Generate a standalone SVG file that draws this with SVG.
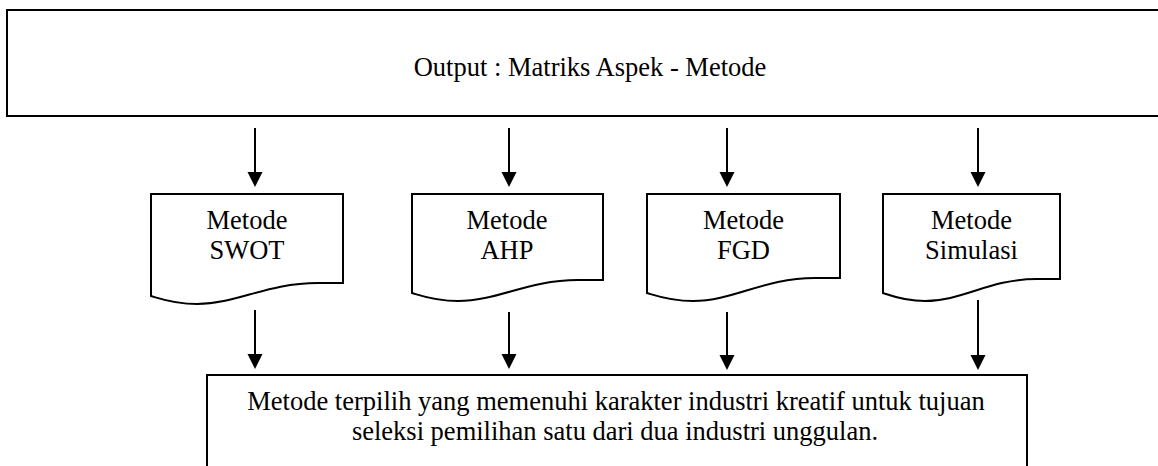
<svg xmlns="http://www.w3.org/2000/svg" width="1158" height="466" viewBox="0 0 1158 466">
<defs>
<style>
.box{fill:#fff;stroke:#000;stroke-width:2}
.t{font-size:26.5px;fill:#000;text-anchor:middle}
.c{stroke:#000;stroke-width:2;fill:none;marker-end:url(#ah)}
</style>
<marker id="ah" markerUnits="userSpaceOnUse" markerWidth="16" markerHeight="16" refX="13" refY="7.5" orient="auto">
<path d="M0,0 L15,7.5 L0,15 Z" fill="#000"/>
</marker>
</defs>
<rect width="1158" height="466" fill="#fff"/>
<g font-family="'Liberation Serif', 'DejaVu Serif', serif">
<g id="output">
<path class="box" d="M1162,10 H7 V116 H1162"/>
<text class="t" x="590" y="76">Output : Matriks Aspek - Metode</text>
</g>
<g id="swot">
<path class="box" d="M151,194 H343 V283 L318,283 C266,283 237,304 197,304 C174,304 161,299 151,296 Z"/>
<text class="t" x="247" y="229">Metode</text>
<text class="t" x="247" y="259">SWOT</text>
</g>
<g id="ahp">
<path class="box" d="M412,194 H603 V280 L578,280 C527,280 498,301 458,301 C435,301 422,296 412,293 Z"/>
<text class="t" x="507" y="229">Metode</text>
<text class="t" x="507" y="259">AHP</text>
</g>
<g id="fgd">
<path class="box" d="M647,194 H840 V278 L815,278 C763,278 734,301 693,301 C670,301 657,296 647,293 Z"/>
<text class="t" x="743.5" y="229">Metode</text>
<text class="t" x="743.5" y="259">FGD</text>
</g>
<g id="simulasi">
<path class="box" d="M883,194 H1060 V279 L1037,279 C989,279 963,301 925,301 C904,301 892,296 883,293 Z"/>
<text class="t" x="971.5" y="229">Metode</text>
<text class="t" x="971.5" y="259">Simulasi</text>
</g>
<g id="result">
<path class="box" d="M207,470 V375 H1027 V470"/>
<text class="t" x="616" y="410">Metode terpilih yang memenuhi karakter industri kreatif untuk tujuan</text>
<text class="t" x="615" y="440">seleksi pemilihan satu dari dua industri unggulan.</text>
</g>
</g>
<g id="connectors">
<line class="c" x1="255" y1="128" x2="255" y2="185"/>
<line class="c" x1="509" y1="128" x2="509" y2="185"/>
<line class="c" x1="727" y1="128" x2="727" y2="185"/>
<line class="c" x1="978" y1="128" x2="978" y2="185"/>
<line class="c" x1="255" y1="310" x2="255" y2="367"/>
<line class="c" x1="509" y1="312" x2="509" y2="367"/>
<line class="c" x1="727" y1="312" x2="727" y2="368"/>
<line class="c" x1="978" y1="300" x2="978" y2="368"/>
</g>
</svg>
